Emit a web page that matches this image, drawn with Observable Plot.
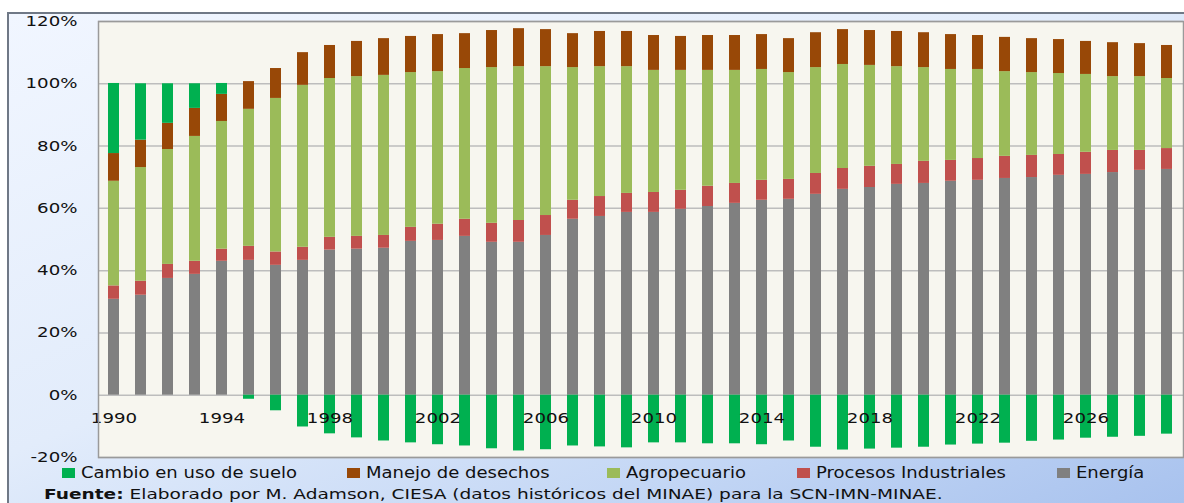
<!DOCTYPE html>
<html>
<head>
<meta charset="utf-8">
<script src="https://cdn.jsdelivr.net/npm/d3@7"></script>
<script src="https://cdn.jsdelivr.net/npm/@observablehq/plot@0.6"></script>
<style>
  html, body { margin: 0; padding: 0; background: #ffffff; }
  #wrap { position: relative; width: 1184px; height: 503px; overflow: hidden; font-family: "DejaVu Sans", sans-serif; color: #111; }
  #panel { position: absolute; left: 7px; top: 12px; width: 1177px; height: 489px;
    border-left: 2px solid #6f7886; border-top: 2px solid #6f7886; border-bottom: 2px solid #8c95a3;
    background: linear-gradient(to bottom right, #f1f6ff 0%, #e2ecfb 45%, #c4d7f5 75%, #a8c2ee 100%); }
  #chart { position: absolute; left: 0; top: 0; }
  .leg { position: absolute; top: 465px; height: 16px; font-size: 15px; line-height: 16px; white-space: nowrap; }
  .sw { position: absolute; left: 0; top: 3px; width: 13px; height: 10px; }
  .lt { position: absolute; left: 19px; top: 0; transform: scaleX(1.2); transform-origin: left center; }
  #foot { position: absolute; left: 44px; top: 486px; font-size: 14px; white-space: nowrap; line-height: 17px; transform: scaleX(1.325); transform-origin: left center; }
</style>
</head>
<body>
<div id="wrap">
  <div id="panel"></div>
  <div id="chart"></div>
  <div id="legend"></div>
  <div id="foot"><b>Fuente:</b> Elaborado por M. Adamson, CIESA (datos históricos del MINAE) para la SCN-IMN-MINAE.</div>
</div>
<script>
const years = [1990,1991,1992,1993,1994,1995,1996,1997,1998,1999,
               2000,2001,2002,2003,2004,2005,2006,2007,2008,2009,
               2010,2011,2012,2013,2014,2015,2016,2017,2018,2019,
               2020,2021,2022,2023,2024,2025,2026,2027,2028,2029];
const labelYears = [1990,1994,1998,2002,2006,2010,2014,2018,2022,2026];
const yTicks = [-20,0,20,40,60,80,100,120];

const series = ["Cambio en uso de suelo","Manejo de desechos","Agropecuario","Procesos Industriales","Energía"];
const colors = ["#00b050","#984807","#9bbb59","#c0504d","#808080"];

const energia = [30.8,32.1,37.5,38.8,43.0,43.3,41.7,43.3,46.6,46.9,
                 47.2,49.4,49.7,51.0,49.1,49.1,51.3,56.5,57.4,58.7,
                 58.7,59.7,60.6,61.6,62.6,62.9,64.5,66.1,66.7,67.7,
                 68.0,68.7,69.0,69.6,69.9,70.6,70.9,71.5,72.2,72.5];
const procesos = [4.3,4.5,4.5,4.2,3.9,4.5,4.3,4.2,4.1,4.1,
                  4.1,4.5,5.2,5.5,6.1,7.0,6.4,6.1,6.4,6.1,
                  6.4,6.1,6.5,6.4,6.4,6.4,6.7,6.7,6.8,6.4,
                  7.1,6.7,7.0,7.1,7.1,6.7,7.1,7.1,6.4,6.7];
const agro = [33.6,36.5,36.9,40.1,41.0,44.0,49.3,52.0,51.0,51.3,
              51.4,49.7,49.0,48.4,50.0,49.4,47.8,42.6,41.7,40.7,
              39.2,38.5,37.2,36.3,35.6,34.3,34.0,33.4,32.4,31.4,
              30.1,29.2,28.6,27.2,26.6,26.0,25.0,23.7,23.7,22.5];
const desechos = [8.9,8.8,8.4,9.0,8.7,8.9,9.6,10.5,10.6,11.3,
                  11.8,11.6,11.9,11.2,11.9,12.2,11.9,10.9,11.3,11.3,
                  11.2,10.9,11.2,11.2,11.2,10.9,11.2,11.2,11.2,11.3,
                  11.2,11.2,10.9,11.0,10.9,10.9,10.6,10.9,10.6,10.6];
const cambio = [22.5,18.1,12.7,7.9,3.5,-1.3,-5.0,-10.2,-12.4,-13.7,
                -14.7,-15.3,-15.9,-16.3,-17.2,-17.9,-17.5,-16.3,-16.6,-16.9,
                -15.3,-15.3,-15.6,-15.6,-15.9,-14.7,-16.7,-17.6,-17.3,-17.0,
                -16.7,-16.0,-15.7,-15.4,-14.8,-14.4,-13.8,-13.5,-13.2,-12.5];

const valuesBySeries = {
  "Energía": energia,
  "Procesos Industriales": procesos,
  "Agropecuario": agro,
  "Manejo de desechos": desechos,
  "Cambio en uso de suelo": cambio
};
const stackOrder = ["Energía","Procesos Industriales","Agropecuario","Manejo de desechos","Cambio en uso de suelo"];
const data = [];
for (const s of stackOrder) {
  valuesBySeries[s].forEach((v, i) => data.push({year: years[i], serie: s, value: v}));
}

const chart = Plot.plot({
  width: 1184,
  height: 468,
  marginLeft: 98,
  marginRight: 1,
  marginTop: 21,
  marginBottom: 11,
  style: {fontFamily: "DejaVu Sans, sans-serif", fontSize: "14px", background: "transparent", color: "#111"},
  x: {type: "band", domain: years, paddingInner: 0.59, paddingOuter: 0.295, axis: null},
  y: {domain: [-20, 120], axis: null},
  color: {domain: series, range: colors},
  marks: [
    Plot.frame({fill: "#f7f6ef"}),
    Plot.ruleY(yTicks, {stroke: "#bdbdbd", strokeWidth: 1.5}),
    Plot.barY(data, {x: "year", y: "value", fill: "serie", order: stackOrder}),
    Plot.text(labelYears, {x: d => d, y: 0, dy: 23, text: d => String(d), fill: "#111", fontSize: 14}),
    Plot.axisY({ticks: yTicks, tickSize: 0, tickPadding: 21, tickFormat: d => d + "%", fontSize: 14, label: null}),
    Plot.frame({stroke: "#9a9a9a", strokeWidth: 1.5})
  ]
});
document.getElementById("chart").appendChild(chart);

// widen the SVG text glyphs horizontally, like the reference's stretched lettering
const stretch = 1.3;
chart.querySelectorAll("text").forEach(t => {
  const b = t.getBBox();
  const anchor = t.getAttribute("text-anchor") || getComputedStyle(t).textAnchor || "start";
  const a = anchor === "end" ? b.x + b.width : anchor === "middle" ? b.x + b.width / 2 : b.x;
  const prev = t.getAttribute("transform") || "";
  t.setAttribute("transform", `${prev} translate(${a},0) scale(${stretch},1) translate(${-a},0)`.trim());
});

const legendLeft = [62, 347, 607, 797, 1057];
const legend = document.getElementById("legend");
series.forEach((s, i) => {
  const item = document.createElement("div");
  item.className = "leg";
  item.style.left = legendLeft[i] + "px";
  item.innerHTML = `<span class="sw" style="background:${colors[i]}"></span><span class="lt">${s}</span>`;
  legend.appendChild(item);
});
</script>
</body>
</html>
